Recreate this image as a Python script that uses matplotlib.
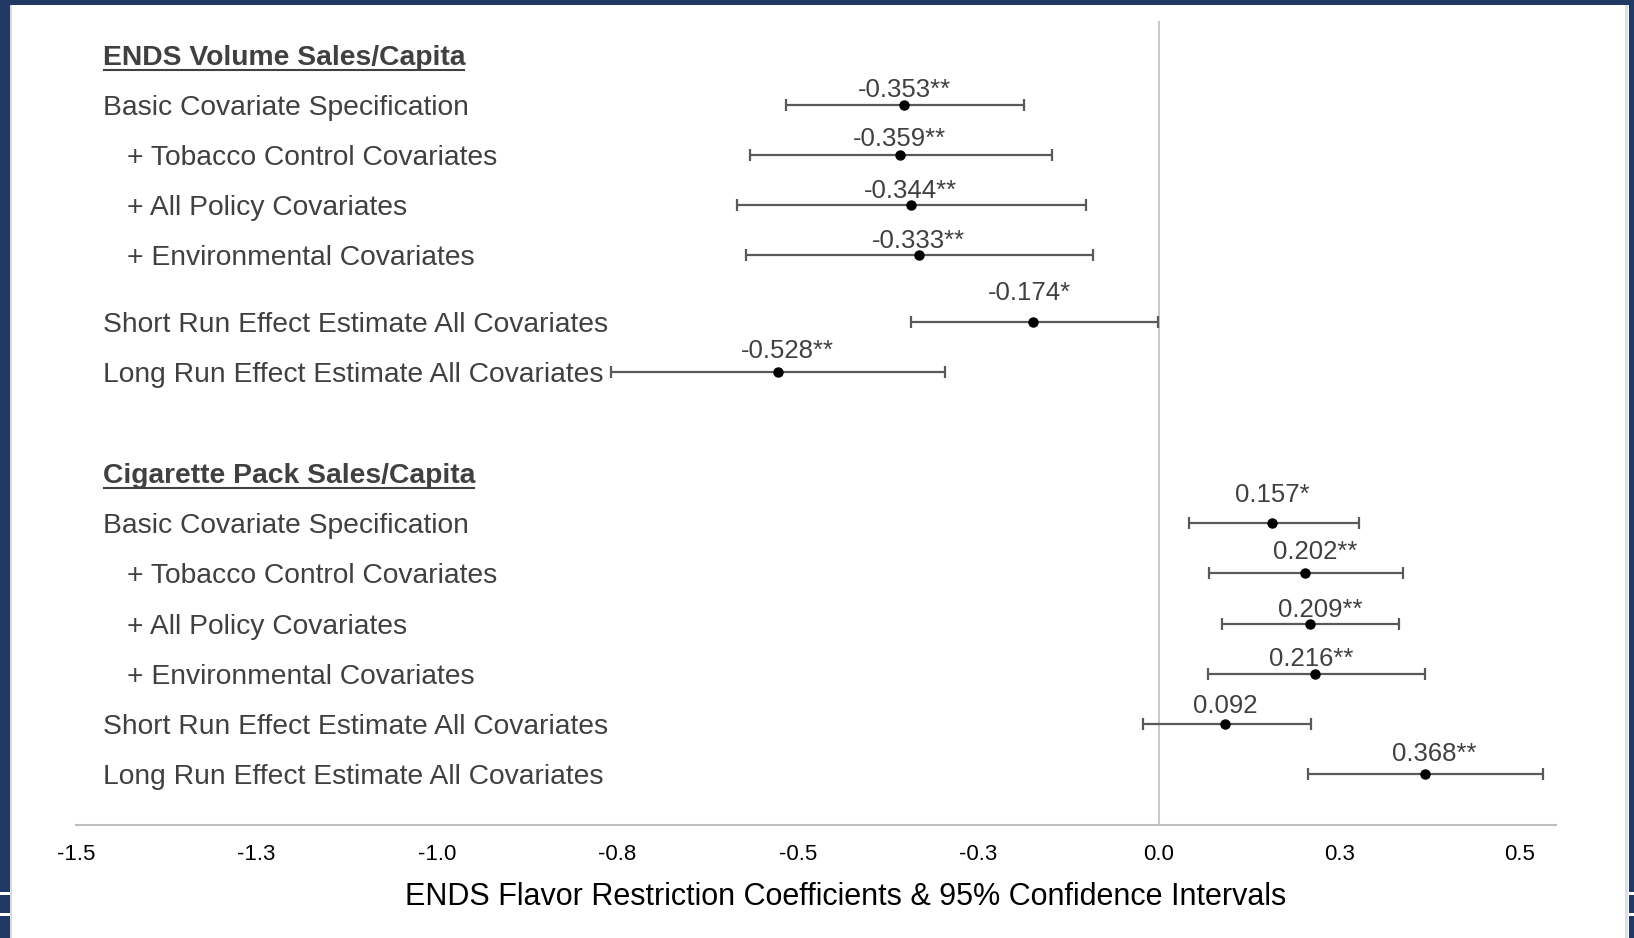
import matplotlib
matplotlib.use("Agg")
import matplotlib.pyplot as plt
from matplotlib.patches import Rectangle
from matplotlib.lines import Line2D
import matplotlib.transforms as mtransforms

plt.rcParams['font.family'] = ['Liberation Sans', 'DejaVu Sans']

# data
ends_title = "ENDS Volume Sales/Capita"
cig_title = "Cigarette Pack Sales/Capita"
row_labels = ["Basic Covariate Specification",
              "+ Tobacco Control Covariates",
              "+ All Policy Covariates",
              "+ Environmental Covariates",
              "Short Run Effect Estimate All Covariates",
              "Long Run Effect Estimate All Covariates"]
row_indent = [False, True, True, True, False, False]

ends_est = [-0.353, -0.359, -0.344, -0.333, -0.174, -0.528]
ends_lo = [-0.517, -0.567, -0.584, -0.572, -0.343, -0.759]
ends_hi = [-0.187, -0.148, -0.101, -0.092, -0.001, -0.296]
ends_txt = ["-0.353**", "-0.359**", "-0.344**", "-0.333**", "-0.174*", "-0.528**"]

cig_est = [0.157, 0.202, 0.209, 0.216, 0.092, 0.368]
cig_lo = [0.041, 0.070, 0.088, 0.068, -0.022, 0.206]
cig_hi = [0.277, 0.338, 0.333, 0.369, 0.210, 0.532]
cig_txt = ["0.157*", "0.202**", "0.209**", "0.216**", "0.092", "0.368**"]

xticks = [-1.5, -1.25, -1.0, -0.75, -0.5, -0.25, 0.0, 0.25, 0.5]
xtick_labels = ["-1.5", "-1.3", "-1.0", "-0.8", "-0.5", "-0.3", "0.0", "0.3", "0.5"]
xlabel = "ENDS Flavor Restriction Coefficients & 95% Confidence Intervals"

# layout (row positions in units of one row step)
ends_head_y = 0.0
ends_y = [1, 2, 3, 4, 5.34, 6.34]
cig_head_y = 8.36
cig_y = [9.36, 10.36, 11.37, 12.37, 13.37, 14.37]
# label offsets from the point, pixels (dx, dy to baseline)
ends_off = [(0, 8), (0, 9), (0, 7), (0, 7), (-4, 22), (10, 14)]
cig_off = [(0, 21), (10, 14), (10, 7), (-4, 8), (0, 11), (10, 13)]

W, H = 1634, 938
TXT = '#404040'
BAR = '#595959'
GRID = '#bfbfbf'
NAVY = '#1f3864'
LAB_FS = 20.3

fig = plt.figure(figsize=(W / 100, H / 100), dpi=100)
ax = fig.add_axes([76 / W, 1 - 825 / H, 1480 / W, 804 / H])

for ys, est, lo, hi in [(ends_y, ends_est, ends_lo, ends_hi),
                        (cig_y, cig_est, cig_lo, cig_hi)]:
    xerr = [[e - l for e, l in zip(est, lo)], [h - e for e, h in zip(est, hi)]]
    ax.errorbar(est, ys, xerr=xerr, fmt='o', color='black', ms=6.5,
                ecolor=BAR, elinewidth=1.6, capsize=4.5, capthick=1.6, zorder=3)

ax.axvline(0, color=GRID, lw=1.2, zorder=1)

ax.set_xlim(-1.5, 0.55)
ax.set_ylim(15.4, -0.68)
ax.set_xticks(xticks)
ax.set_xticklabels(xtick_labels, fontsize=16, color='black')
ax.tick_params(axis='x', length=0, pad=14)
ax.set_yticks([])
for s in ['top', 'left', 'right']:
    ax.spines[s].set_visible(False)
ax.spines['bottom'].set_color(GRID)
ax.spines['bottom'].set_linewidth(1.5)
fig.text(846 / W, 1 - 897 / H, xlabel, ha='center', va='center',
         fontsize=22, color='black')

# value labels
for ys, est, txt, off in [(ends_y, ends_est, ends_txt, ends_off),
                          (cig_y, cig_est, cig_txt, cig_off)]:
    for x, y, t, (dx, dy) in zip(est, ys, txt, off):
        ax.annotate(t, (x, y), xytext=(dx * 0.72, dy * 0.72), textcoords='offset points',
                    ha='center', va='baseline', fontsize=18.5, color=TXT)

# row labels
blend = mtransforms.blended_transform_factory(ax.transAxes, ax.transData)
for ys in [ends_y, cig_y]:
    for y, lab, ind in zip(ys, row_labels, row_indent):
        ax.text(0.0345 if ind else 0.0182, y, lab, transform=blend, ha='left',
                va='center_baseline', fontsize=LAB_FS, color=TXT)

heads = []
for y, lab in [(ends_head_y, ends_title), (cig_head_y, cig_title)]:
    tr = mtransforms.offset_copy(blend, fig=fig, x=0, y=-9.5, units='dots')
    heads.append((ax.text(0.0182, y, lab, transform=tr, ha='left', va='baseline',
                          fontsize=LAB_FS, fontweight='bold', color=TXT), y))

fig.canvas.draw()
r = fig.canvas.get_renderer()
for t, y in heads:
    bb = t.get_window_extent(r)
    yb = blend.transform((0, y))[1] - 9.5 - 5
    fig.add_artist(Line2D([bb.x0 + 1, bb.x1 - 1], [yb, yb], color=TXT, lw=1.5,
                          transform=mtransforms.IdentityTransform()))

# frame around the slide
def px_rect(x0, y0, x1, y1, c):
    fig.add_artist(Rectangle((x0 / W, 1 - y1 / H), (x1 - x0) / W, (y1 - y0) / H,
                             transform=fig.transFigure, color=c, lw=0, zorder=10))

px_rect(0, 0, W, 5, NAVY)
px_rect(0, 0, 9.5, H, NAVY)
px_rect(9.5, 5, 12, H, '#d9d9d9')
px_rect(1629, 0, W, H, NAVY)
px_rect(1625, 5, 1628, H, '#e0e0e0')
for y0, y1 in [(892, 895), (913, 916)]:
    px_rect(0, y0, 9.5, y1, 'white')
    px_rect(1629, y0, W, y1, 'white')

fig.savefig('out.png', dpi=100)
